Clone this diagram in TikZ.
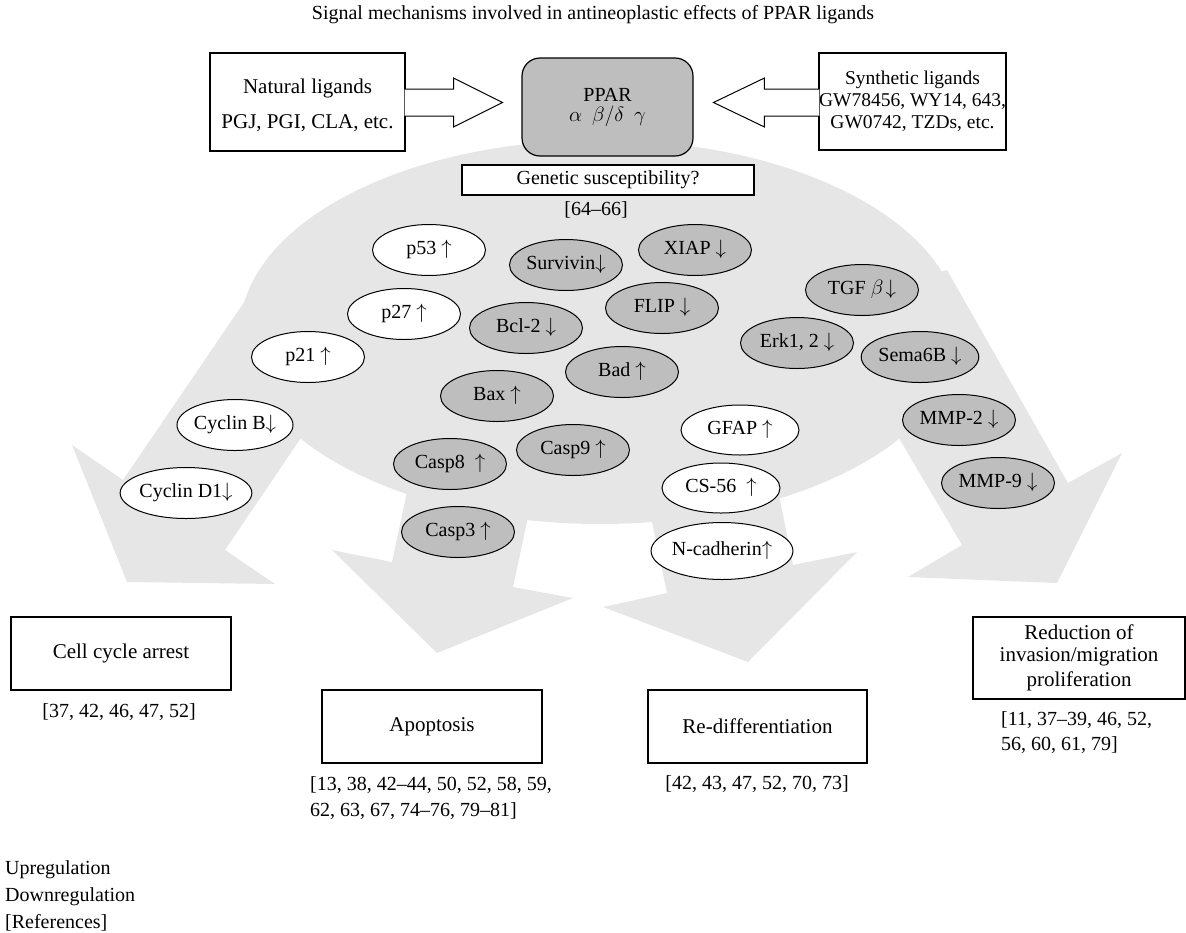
\documentclass[tikz,border=0pt]{standalone}
\usepackage{fontspec}
\setmainfont{Liberation Serif}
\usetikzlibrary{calc,shapes.geometric}
\definecolor{domegrey}{HTML}{E6E6E6}
\definecolor{molgrey}{HTML}{BEBEBE}
\begin{document}
\begin{tikzpicture}[x=1pt,y=-1pt,
  every node/.style={font=\fontsize{20}{24}\selectfont},
  lbl/.style={inner sep=0pt},
  box/.style={draw,line width=1.2pt,fill=white,inner sep=0pt},
  bigtext/.style={font=\fontsize{21}{25}\selectfont},
  mol/.style={draw,ellipse,line width=1pt,minimum width=113pt,minimum height=51pt,inner sep=0pt,text height=13pt,text depth=4pt},
  upmol/.style={mol,fill=white},
  dnmol/.style={mol,fill=molgrey},
  blockarrow/.style={draw,line width=1pt,fill=white,line join=miter}
]
\useasboundingbox (0,0) rectangle (1186,932);

% grey dome with four outgoing arrows
\fill[domegrey] (600,332) ellipse [x radius=360pt, y radius=192pt];
\fill[domegrey] (266,270) -- (123,480) -- (72,445) -- (127,582) -- (275,584) -- (225,550) -- (330,395) -- cycle;
\fill[domegrey] (411,473) -- (392,562) -- (332,550) -- (437,653) -- (573,598) -- (513,587) -- (531,503) -- cycle;
\fill[domegrey] (648,503) -- (667,593) -- (603,607) -- (748,662) -- (857,552) -- (793,565) -- (776,480) -- cycle;
\fill[domegrey] (880,290) -- (947,270) -- (1068,483) -- (1122,453) -- (1057,583) -- (908,577) -- (962,545) -- (870,389) -- cycle;

% title
\node[lbl] (title) at (593,15) {Signal mechanisms involved in antineoplastic effects of PPAR ligands};

% top row
\node[box,minimum width=195pt,minimum height=98pt] (nat) at (307.5,102) {};
\node[lbl,align=center,font=\fontsize{21}{35}\selectfont] (natt) at (307.5,105) {Natural ligands\\PGJ, PGI, CLA, etc.};
\node[box,minimum width=181pt,minimum height=97pt,align=center,font=\fontsize{19.5}{22}\selectfont] (syn) at (912.5,101.5) {Synthetic ligands\\GW78456, WY14, 643,\\GW0742, TZDs, etc.};
\node[draw,line width=1.2pt,fill=molgrey,rounded corners=18pt,minimum width=171pt,minimum height=98pt,inner sep=0pt,align=center,font=\fontsize{20}{20}\selectfont] (ppar) at (607.5,107) {PPAR\\$\alpha\ \ \beta/\delta\ \ \gamma$};

\draw[blockarrow] ($(nat.east)+(-1,-13)$) -- ++(49,0) -- ++(0,-11) -- ++(49,24.5) -- ++(-49,24.5) -- ++(0,-11) -- ($(nat.east)+(-1,14)$);
\draw[blockarrow] ($(syn.west)+(1,-12.5)$) -- ++(-55,0) -- ++(0,-11) -- ++(-51,24.5) -- ++(51,24.5) -- ++(0,-11) -- ($(syn.west)+(1,14.5)$);

\node[box,minimum width=292pt,minimum height=30pt] (gen) at (608,180) {Genetic susceptibility?};
\node[lbl] (genref) at (596,210) {[64–66]};

% molecules
\node[upmol] (p53) at (429,250) {p53 $\uparrow$};
\node[upmol] (p27) at (404,314) {p27 $\uparrow$};
\node[upmol] (p21) at (308,357) {p21 $\uparrow$};
\node[upmol] (cycb) at (235,425) {Cyclin B$\downarrow$};
\node[upmol] (cycd) at (186,493) {Cyclin D1$\downarrow$};
\node[dnmol] (surv) at (566,265) {Survivin$\downarrow$};
\node[dnmol] (xiap) at (695,250) {XIAP $\downarrow$};
\node[dnmol] (bcl) at (526,328) {Bcl-2 $\downarrow$};
\node[dnmol] (flip) at (662,308) {FLIP $\downarrow$};
\node[dnmol] (bad) at (622,372) {Bad $\uparrow$};
\node[dnmol] (bax) at (497,396) {Bax $\uparrow$};
\node[dnmol] (casp8) at (450,464) {Casp8 \ $\uparrow$};
\node[dnmol] (casp9) at (573,450) {Casp9 $\uparrow$};
\node[dnmol] (casp3) at (458,532) {Casp3 $\uparrow$};
\node[dnmol] (tgf) at (862,290) {TGF $\beta\!\downarrow$};
\node[dnmol] (erk) at (797,343) {Erk1, 2 $\downarrow$};
\node[dnmol] (sema) at (920,357) {Sema6B $\downarrow$};
\node[dnmol] (mmp2) at (959,420) {MMP-2 $\downarrow$};
\node[dnmol] (mmp9) at (998,483) {MMP-9 $\downarrow$};
\node[upmol,minimum width=118pt,minimum height=50pt] (gfap) at (740,430) {GFAP $\uparrow$};
\node[upmol,minimum width=118pt,minimum height=50pt] (cs56) at (721,488) {CS-56 \ $\uparrow$};
\node[upmol,minimum width=126pt,minimum height=57pt] (ncad) at (722,551) {N-cadherin$\uparrow$};

% outcome boxes
\node[box,bigtext,minimum width=220pt,minimum height=73pt] (cell) at (121,653.5) {Cell cycle arrest};
\node[lbl] (cellref) at (119,712) {[37, 42, 46, 47, 52]};
\node[box,bigtext,minimum width=220pt,minimum height=73pt] (apop) at (432,726.5) {Apoptosis};
\node[lbl,anchor=west,align=left,font=\fontsize{20}{26}\selectfont] (apopref) at (310,798) {[13, 38, 42–44, 50, 52, 58, 59,\\62, 63, 67, 74–76, 79–81]};
\node[box,bigtext,minimum width=219pt,minimum height=73pt] (rediff) at (757.5,726.5) {Re-differentiation};
\node[lbl] (rediffref) at (757,784) {[42, 43, 47, 52, 70, 73]};
\node[box,minimum width=212pt,minimum height=82pt,align=center,font=\fontsize{21}{25}\selectfont] (reduc) at (1079,658) {Reduction of\\[-3pt]invasion/migration\\proliferation};
\node[lbl,anchor=west,align=left,font=\fontsize{20}{25}\selectfont] (reducref) at (1001,732.5) {[11, 37–39, 46, 52,\\56, 60, 61, 79]};

% legend
\node[lbl,anchor=west] (lup) at (5,870) {Upregulation};
\node[lbl,anchor=west] (ldn) at (5,897) {Downregulation};
\node[lbl,anchor=west] (lref) at (5,923) {[References]};
\end{tikzpicture}
\end{document}
